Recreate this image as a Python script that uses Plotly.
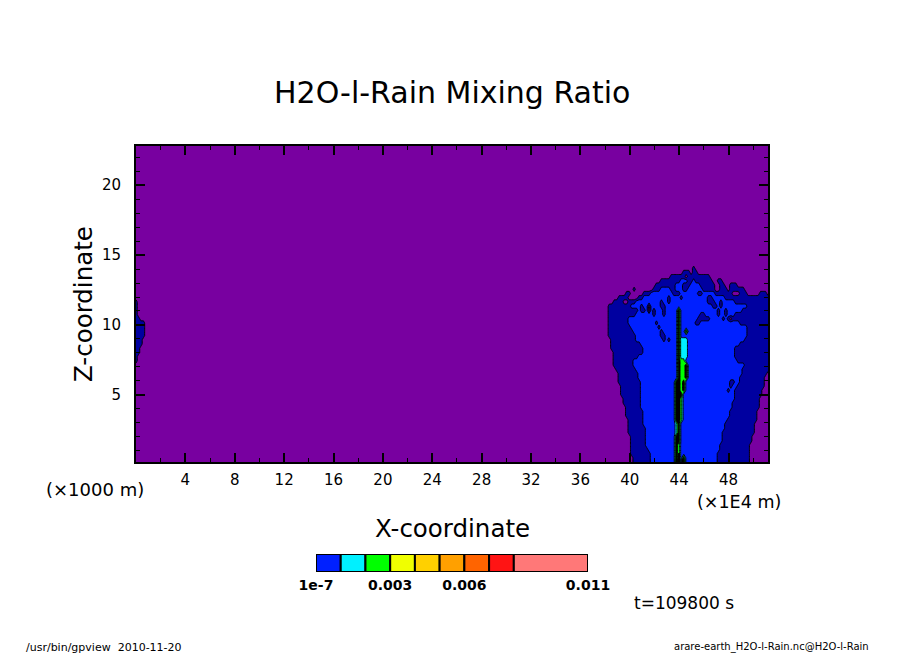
import numpy as np
import plotly.graph_objects as go

# band for each model cell:
# 0 purple, 1 dark blue, 2 blue, 3 cyan, 4 green, 5 black (packed contours)
band_colors = ['#7800a0', '#0000a0', '#0020ff', '#00f0ff', '#00ff00', '#000000']

# rows from the ground up, written as band:end_column, columns counted from storm_start
storm_start = 187
storm_rows = [
    '0:14 1:21 2:31 5:32 4:33 2:34 5:35 2:48 1:61 0:69',
    '0:14 1:21 2:31 5:32 4:33 2:34 5:35 2:48 1:61 0:69',
    '0:13 1:21 2:31 5:32 4:33 2:48 1:61 0:69',
    '0:13 1:20 2:31 5:32 4:33 2:49 1:61 0:69',
    '0:13 1:19 2:31 5:32 4:33 2:49 1:61 0:69',
    '0:13 1:19 2:31 5:33 2:50 1:62 0:69',
    '0:13 1:19 2:31 5:33 2:50 1:62 0:69',
    '0:12 1:19 2:31 3:32 5:33 2:50 1:63 0:69',
    '0:12 1:19 2:31 3:32 5:33 2:51 1:63 0:69',
    '0:12 1:18 2:31 3:32 5:33 2:51 1:63 0:69',
    '0:12 1:18 2:31 5:33 4:34 2:52 1:64 0:69',
    '0:11 1:18 2:31 5:33 4:34 2:53 1:64 0:69',
    '0:11 1:18 2:31 5:33 4:34 2:53 1:64 0:69',
    '0:11 1:17 2:31 5:33 4:34 2:54 1:65 0:69',
    '0:10 1:17 2:31 5:33 4:34 2:54 1:65 0:69',
    '0:10 1:17 2:31 5:33 4:34 2:55 1:65 0:69',
    '0:9 1:17 2:31 5:34 2:55 1:66 0:69',
    '0:9 1:17 2:31 5:33 4:34 5:35 2:52 1:53 2:55 1:66 0:69',
    '0:9 1:17 2:31 5:33 4:34 5:35 2:53 1:54 2:56 1:67 0:69',
    '0:8 1:17 2:31 5:33 4:34 5:35 2:53 1:55 2:57 1:67 0:69',
    '0:8 1:16 2:32 5:33 4:35 5:36 2:57 1:67 0:69',
    '0:8 1:16 2:32 5:33 4:35 5:36 2:58 1:68 0:69',
    '0:7 1:15 2:32 5:33 4:35 5:36 2:58 1:69',
    '0:6 1:14 2:32 5:33 4:35 5:36 2:59 1:69',
    '0:6 1:14 2:32 5:33 4:35 2:56 1:69',
    '0:6 1:16 2:32 5:33 3:36 2:55 1:69',
    '0:6 1:18 2:32 5:33 3:36 2:55 1:69',
    '0:5 1:18 2:32 5:33 3:36 2:55 1:69',
    '0:5 1:17 2:32 5:33 3:36 2:57 1:69',
    '0:5 1:15 2:26 1:27 2:28 1:29 2:32 5:33 3:36 2:59 1:69',
    '0:4 1:15 2:25 1:27 2:32 5:33 2:60 1:69',
    '0:4 1:14 2:25 1:26 2:32 5:33 2:35 5:36 2:60 1:69',
    '0:4 1:13 2:24 1:25 2:32 5:33 2:60 1:69',
    '0:4 1:12 2:23 1:24 2:32 5:33 2:39 1:41 2:57 1:69',
    '0:4 1:12 2:32 5:33 2:40 1:45 2:50 1:51 2:52 1:53 0:54 1:69',
    '0:4 1:15 2:22 1:23 2:26 1:27 2:32 5:33 2:41 1:43 2:48 1:49 2:51 1:52 2:55 1:69',
    '0:4 1:16 2:17 1:19 2:20 0:21 2:22 1:23 2:26 1:27 2:32 5:33 2:48 1:49 2:51 1:52 2:58 1:69',
    '0:4 1:13 2:17 1:18 2:20 0:21 2:25 1:27 2:46 1:48 2:49 1:50 2:60 1:69',
    '0:6 1:10 0:12 1:15 2:25 1:26 2:28 1:29 2:44 1:47 2:49 1:50 2:55 1:69',
    '0:8 1:12 0:16 1:18 2:28 1:29 2:33 1:34 2:44 1:46 2:51 1:69',
    '0:11 1:13 0:18 1:21 2:30 1:33 2:40 1:42 2:47 1:54 0:57 1:60 0:65 1:68 0:69',
    '0:14 1:15 0:22 1:25 2:29 1:31 2:34 1:36 2:42 1:47 0:49 1:52 0:53 1:59 0:69',
    '0:23 1:31 2:34 1:37 2:41 1:47 0:49 1:51 0:53 1:56 0:69',
    '0:25 1:33 2:36 1:38 2:39 1:46 0:48 1:50 0:69',
    '0:29 1:35 0:36 1:45 0:69',
    '0:34 1:37 0:38 1:40 0:69',
    '0:38 1:39 0:69',
]

# small patch on the left edge: first row, then how many columns are dark blue
left_first_row = 24
left_widths = [1, 1, 2, 2, 3, 3, 4, 4, 4, 4, 2, 1, 1, 1, 1]

x_ticks = [4, 8, 12, 16, 20, 24, 28, 32, 36, 40, 44, 48]
x_minor = [2, 6, 10, 14, 18, 22, 26, 30, 34, 38, 42, 46, 50]
z_ticks = [5, 10, 15, 20]
z_minor = [1, 2, 3, 4, 6, 7, 8, 9, 11, 12, 13, 14, 16, 17, 18, 19, 21, 22]

bar_levels = [0.0000001, 0.001, 0.002, 0.003, 0.004, 0.005, 0.006, 0.007, 0.008, 0.011]
bar_colors = ['#0020ff', '#00f0ff', '#00ff00', '#f0ff00', '#ffd000', '#ffa000', '#ff6400', '#ff1414', '#ff7878']
bar_ticks = [0.0000001, 0.003, 0.006, 0.011]
bar_labels = ['1e-7', '0.003', '0.006', '0.011']

# the page body keeps an 8px margin at the top and left
W, H = 888, 646
PAGE = 8

def fx(px):
    return (px - PAGE) / W

def fy(py):
    return 1 - (py - PAGE) / H

x_grid = np.linspace(0, 51.2, 256)
z_grid = np.linspace(0.2, 22.8, 76)

bands = np.zeros((len(z_grid), len(x_grid)))
for r, row in enumerate(storm_rows):
    start = storm_start
    for run in row.split():
        band, end = run.split(':')
        bands[r, start:storm_start + int(end)] = int(band)
        start = storm_start + int(end)
for i, width in enumerate(left_widths):
    bands[left_first_row + i, :width] = 1

# flat stops so a band never picks up its neighbour's colour
scale = []
for i, c in enumerate(band_colors):
    scale += [[max(i - 0.4, 0) / 5, c], [min(i + 0.4, 5) / 5, c]]
scale[0][0] = 0
scale[-1][0] = 1

fig = go.Figure()
fig.add_trace(go.Contour(
    x=x_grid, y=z_grid, z=bands, zmin=0, zmax=5,
    contours=dict(start=0.5, end=4.5, size=1, coloring='fill'),
    colorscale=scale,
    line=dict(color='black', width=1, smoothing=0),
    showscale=False, hoverinfo='skip',
))
fig.add_trace(go.Bar(
    x=np.diff(bar_levels), base=bar_levels[:-1], y=[0] * len(bar_colors),
    orientation='h', width=1, xaxis='x2', yaxis='y2',
    marker=dict(color=bar_colors, line=dict(color='black', width=2)),
    hoverinfo='skip',
))

def note(text, px, py, size, anchor='center', **kw):
    fig.add_annotation(text=text, x=fx(px), y=fy(py), xref='paper', yref='paper',
                       xanchor=anchor, yanchor='middle', showarrow=False,
                       font=dict(size=size), **kw)

note('H2O-l-Rain Mixing Ratio', 452, 93, 30)
note('X-coordinate', 452, 528, 24.5)
note('Z-coordinate', 83, 304, 24.5, textangle=-90)
note('(×1000 m)', 95, 490, 18)
note('(×1E4 m)', 739, 502, 17.5)
note('t=109800 s', 684, 603, 17)
note('/usr/bin/gpview  2010-11-20', 24, 647, 11, anchor='left')
note('arare-earth_H2O-l-Rain.nc@H2O-l-Rain', 871, 647, 10, anchor='right')

axis_style = dict(ticks='inside', ticklen=9, tickwidth=2, tickcolor='black', automargin=False,
                  showline=True, linewidth=2, linecolor='black', mirror='ticks',
                  showgrid=False, zeroline=False, tickfont=dict(size=15))
fig.update_layout(
    width=W, height=H, margin=dict(l=0, r=0, t=0, b=0, autoexpand=False),
    paper_bgcolor='white', plot_bgcolor='white', showlegend=False,
    font=dict(family='DejaVu Sans', color='black'),
    xaxis=dict(domain=[fx(136), fx(768)], range=[0, 51.2], tickmode='array', tickvals=x_ticks,
               minor=dict(tickvals=x_minor, ticks='inside', ticklen=4, tickwidth=1, tickcolor='black'),
               ticklabelstandoff=3, **axis_style),
    yaxis=dict(domain=[fy(462), fy(146)], range=[0.2, 22.8], tickmode='array', tickvals=z_ticks,
               minor=dict(tickvals=z_minor, ticks='inside', ticklen=4, tickwidth=1, tickcolor='black'),
               ticklabelstandoff=10, **axis_style),
    xaxis2=dict(domain=[fx(316), fx(588)], range=[0, 0.011], anchor='y2', tickmode='array',
                tickvals=bar_ticks, ticktext=bar_labels, ticks='', showline=False, showgrid=False,
                automargin=False, zeroline=False, ticklabelstandoff=3,
                tickfont=dict(size=14, weight='bold')),
    yaxis2=dict(domain=[fy(572), fy(554)], range=[-0.5, 0.5], anchor='x2', visible=False),
)

fig.write_html('out.html')
